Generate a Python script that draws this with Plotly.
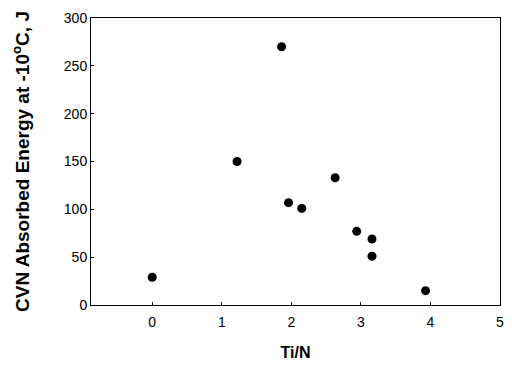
import plotly.graph_objects as go

ti_n = [0.0, 1.22, 1.86, 1.96, 2.15, 2.63, 2.94, 3.16, 3.16, 3.93]
cvn = [29, 150, 270, 107, 101, 133, 77, 69, 51, 15]
x_ticks = [0, 1, 2, 3, 4, 5]
y_ticks = [0, 50, 100, 150, 200, 250, 300]

FONT = "Liberation Sans, Arial"

fig = go.Figure()
fig.add_trace(go.Scatter(x=ti_n, y=cvn, mode="markers",
                         marker=dict(color="black", size=9), showlegend=False))

axis_common = dict(showgrid=False, zeroline=False, showline=True, linecolor="black",
                   linewidth=1, mirror=True, ticks="inside", ticklen=3, tickcolor="black",
                   ticklabeloverflow="allow",
                   tickfont=dict(family=FONT, size=14, color="black"))
fig.update_xaxes(range=[-0.88, 5.0], tickvals=x_ticks, ticklabelstandoff=4,
                 title=dict(text="<b>Ti/N</b>", font=dict(family=FONT, size=16, color="black"),
                            standoff=18),
                 **axis_common)
fig.update_yaxes(range=[0, 300], tickvals=y_ticks,
                 title=dict(text="<b>CVN Absorbed Energy at -10<sup>o</sup>C, J</b>",
                            font=dict(family=FONT, size=19, color="black"),
                            standoff=29),
                 **axis_common)
fig.update_layout(width=512, height=372, plot_bgcolor="white", paper_bgcolor="white",
                  margin=dict(l=91, r=8, t=18, b=67))
fig.write_html("out.html", config={"displayModeBar": False},
               post_script="document.body.style.margin='0';document.body.style.overflow='hidden';")
